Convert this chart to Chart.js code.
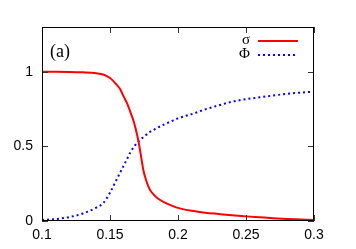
<!DOCTYPE html>
<html>
<head>
<meta charset="utf-8">
<script src="https://cdn.jsdelivr.net/npm/chart.js@4"></script>
<style>
  html, body { margin: 0; padding: 0; background: #fff; }
  #wrap { width: 356px; height: 249px; }
</style>
</head>
<body>
<div id="wrap"><canvas id="chart" width="356" height="249"></canvas></div>
<script>
// values
const xValues = [0.1, 0.11, 0.12, 0.13, 0.14, 0.145, 0.15, 0.155, 0.1575, 0.16, 0.1625, 0.165, 0.1675,
    0.17, 0.1715, 0.173, 0.1745, 0.1765, 0.179, 0.182, 0.185, 0.19, 0.195, 0.2, 0.21, 0.22, 0.23,
    0.24, 0.25, 0.26, 0.27, 0.28, 0.29, 0.3];
const sigma = [1.0, 1.0, 0.999, 0.996, 0.99, 0.982, 0.958, 0.912, 0.883, 0.835, 0.79, 0.73, 0.665,
    0.575, 0.505, 0.425, 0.342, 0.275, 0.215, 0.178, 0.152, 0.125, 0.105, 0.088, 0.068, 0.056, 0.047,
    0.038, 0.031, 0.025, 0.019, 0.014, 0.01, 0.006];
const phi = [0.007, 0.013, 0.026, 0.05, 0.09, 0.12, 0.19, 0.28, 0.325, 0.37, 0.415, 0.46, 0.495,
    0.525, 0.538, 0.55, 0.562, 0.577, 0.595, 0.61, 0.625, 0.648, 0.668, 0.688, 0.716, 0.748, 0.775,
    0.8, 0.816, 0.829, 0.841, 0.852, 0.86, 0.867];
const xTicks = [0.1, 0.15, 0.2, 0.25, 0.3];
const yTicks = [0, 0.5, 1];
const seriesLabels = ['σ', 'Φ'];
const panelLabel = '(a)';

const toPoints = (ys) => xValues.map((x, i) => ({ x: x, y: ys[i] }));

// frame, inward ticks on all four sides, legend and panel label
const framePlugin = {
    id: 'frame',
    afterDraw(chart) {
        const ctx = chart.ctx;
        const a = chart.chartArea;
        const xs = chart.scales.x, ys = chart.scales.y;
        ctx.save();
        ctx.strokeStyle = '#333';
        ctx.lineWidth = 1;
        ctx.beginPath();
        xTicks.forEach(v => {
            const px = Math.round(xs.getPixelForValue(v)) + 0.5;
            ctx.moveTo(px, a.bottom); ctx.lineTo(px, a.bottom - 6);
            ctx.moveTo(px, a.top); ctx.lineTo(px, a.top + 6);
        });
        yTicks.forEach(v => {
            const py = Math.round(ys.getPixelForValue(v)) + 0.5;
            ctx.moveTo(a.left, py); ctx.lineTo(a.left + 6, py);
            ctx.moveTo(a.right, py); ctx.lineTo(a.right - 6, py);
        });
        ctx.stroke();
        ctx.strokeStyle = '#000';
        ctx.strokeRect(Math.round(a.left) + 0.5, Math.round(a.top) + 0.5,
            Math.round(a.right - a.left) - 1, Math.round(a.bottom - a.top) - 1);

        // legend
        ctx.font = '15px "Liberation Serif", serif';
        ctx.textAlign = 'right';
        ctx.textBaseline = 'middle';
        ctx.fillStyle = '#000';
        chart.data.datasets.forEach((ds, i) => {
            const y = 40.5 + i * 14;
            ctx.fillText(ds.label, 250, y);
            ctx.beginPath();
            ctx.strokeStyle = ds.borderColor;
            ctx.lineWidth = 2;
            ctx.setLineDash(ds.borderDash || []);
            ctx.moveTo(258, y + 0.5);
            ctx.lineTo(i === 0 ? 298 : 296, y + 0.5);
            ctx.stroke();
        });
        ctx.setLineDash([]);

        ctx.font = '18px "Liberation Serif", serif';
        ctx.textAlign = 'left';
        ctx.fillText(panelLabel, 50, 52);
        ctx.restore();
    }
};

new Chart(document.getElementById('chart'), {
    type: 'line',
    data: {
        datasets: [
            {
                label: seriesLabels[0],
                data: toPoints(sigma),
                borderColor: '#ff0000',
                borderWidth: 2,
                pointRadius: 0,
                cubicInterpolationMode: 'monotone'
            },
            {
                label: seriesLabels[1],
                data: toPoints(phi),
                borderColor: '#0000ff',
                borderWidth: 2,
                borderDash: [2, 3],
                pointRadius: 0,
                cubicInterpolationMode: 'monotone'
            }
        ]
    },
    options: {
        responsive: false,
        animation: false,
        events: [],
        layout: { padding: { top: 27, right: 42, left: 0, bottom: 0 } },
        plugins: { legend: { display: false }, tooltip: { enabled: false } },
        scales: {
            x: {
                type: 'linear',
                min: 0.1,
                max: 0.3,
                afterBuildTicks: (s) => { s.ticks = xTicks.map(v => ({ value: v })); },
                afterFit: (s) => { s.height = 28; },
                grid: { display: false, drawTicks: false },
                border: { display: false },
                ticks: {
                    color: '#000',
                    padding: 6,
                    maxRotation: 0,
                    font: { family: '"Liberation Sans", Arial, sans-serif', size: 14 },
                    callback: (v) => String(+v.toFixed(2))
                }
            },
            y: {
                min: 0,
                max: 1.3,
                afterBuildTicks: (s) => { s.ticks = yTicks.map(v => ({ value: v })); },
                afterFit: (s) => { s.width = 42; },
                grid: { display: false, drawTicks: false },
                border: { display: false },
                ticks: {
                    color: '#000',
                    padding: 9,
                    font: { family: '"Liberation Sans", Arial, sans-serif', size: 14 },
                    callback: (v) => String(+v.toFixed(2))
                }
            }
        }
    },
    plugins: [framePlugin]
});
</script>
</body>
</html>
